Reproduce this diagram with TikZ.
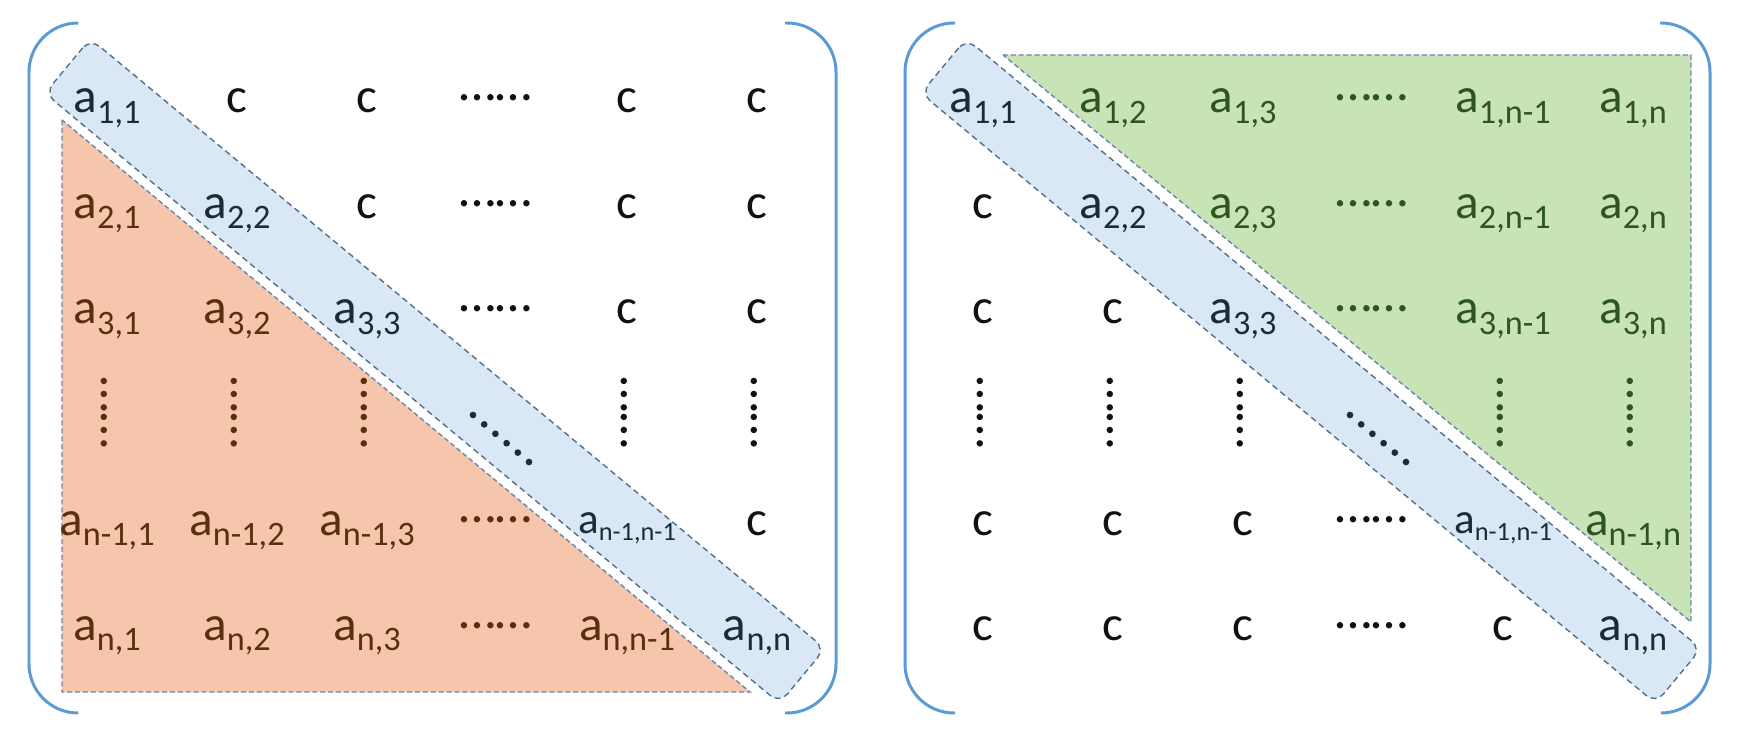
\documentclass[tikz,border=0pt]{standalone}
\usepackage{fontspec}
\setmainfont{Carlito}
\definecolor{bandfill}{HTML}{DAE8F5}
\definecolor{banddraw}{HTML}{52708E}
\definecolor{orangefill}{HTML}{F5C6AB}
\definecolor{greenfill}{HTML}{C8E3B5}
\definecolor{txtbrown}{HTML}{5C2E10}
\definecolor{txtgreen}{HTML}{2C5520}
\definecolor{txtdiag}{HTML}{1C2B3A}
\definecolor{txtblack}{HTML}{111111}
\definecolor{bracketblue}{HTML}{5B9BD5}
\definecolor{tridraw}{HTML}{6A86AE}
\newcommand\mainf{\fontsize{28}{30}\selectfont}
\newcommand\aent[1]{a\raisebox{-5.7pt}{\fontsize{19.5}{20}\selectfont #1}}
\newcommand\aentsm[1]{\fontsize{24.5}{26}\selectfont a\raisebox{-4pt}{\fontsize{15}{16}\selectfont #1}}
\tikzset{
  ent/.style={anchor=base, inner sep=0pt, font=\mainf},
  cc/.style={ent, text=txtblack},
  dg/.style={ent, text=txtdiag},
  br/.style={ent, text=txtbrown},
  gr/.style={ent, text=txtgreen},
  dotsn/.style={inner sep=0pt, anchor=center, font=\fontsize{30}{32}\selectfont},
  bracket/.style={draw=bracketblue, line width=1.7pt, rounded corners=0.98cm},
  band/.style={draw=banddraw, fill=bandfill, line width=0.8pt, dash pattern=on 3.4pt off 2.3pt,
    rounded corners=0.24cm},
  tri/.style={draw=tridraw, line width=0.8pt, dash pattern=on 2.8pt off 1.7pt},
  ddot/.style={fill=txtdiag}
}
\begin{document}
\begin{tikzpicture}[x=0.02cm, y=-0.02cm]
\useasboundingbox[fill=white] (0,0) rectangle (1742,733);
% ---------- left matrix ----------
\fill[orangefill] (62,120) -- (62,692) -- (750,692) -- cycle;
\draw[tri] (62,120) -- (62,692) -- (750,692) -- cycle;
\begin{scope}[shift={(435,371)}, rotate=-39.7]
  \draw[band] (-477.5,-35.5) rectangle (477.5,35.5);
\end{scope}
\draw[bracket] (78,23) -- (29,23) -- (29,713) -- (78,713);
\draw[bracket] (785,23) -- (836,23) -- (836,713) -- (785,713);
% row 1
\node[dg] (L11) at (107,113) {\aent{1,1}};
\node[cc] (L12) at (237,113) {c};
\node[cc] (L13) at (367,113) {c};
\node[dotsn, text=txtblack] (L14) at (496,98) {……};
\node[cc] (L15) at (627,113) {c};
\node[cc] (L16) at (757,113) {c};
% row 2
\node[br] (L21) at (107,218.5) {\aent{2,1}};
\node[dg] (L22) at (237,218.5) {\aent{2,2}};
\node[cc] (L23) at (367,218.5) {c};
\node[dotsn, text=txtblack] (L24) at (496,203.5) {……};
\node[cc] (L25) at (627,218.5) {c};
\node[cc] (L26) at (757,218.5) {c};
% row 3
\node[br] (L31) at (107,324) {\aent{3,1}};
\node[br] (L32) at (237,324) {\aent{3,2}};
\node[dg] (L33) at (367,324) {\aent{3,3}};
\node[dotsn, text=txtblack] (L34) at (496,309) {……};
\node[cc] (L35) at (627,324) {c};
\node[cc] (L36) at (757,324) {c};
% row 4
\node[dotsn, text=txtbrown, rotate=-90] (L41) at (104,413) {……};
\node[dotsn, text=txtbrown, rotate=-90] (L42) at (234,413) {……};
\node[dotsn, text=txtbrown, rotate=-90] (L43) at (364,413) {……};
\foreach \i in {0,...,5} \fill[ddot] (473+11.2*\i,415+9.4*\i) circle[radius=1.9pt];
\node[dotsn, text=txtblack, rotate=-90] (L45) at (624,413) {……};
\node[dotsn, text=txtblack, rotate=-90] (L46) at (754,413) {……};
% row 5
\node[br] (L51) at (107,535) {\aent{n-1,1}};
\node[br] (L52) at (237,535) {\aent{n-1,2}};
\node[br] (L53) at (367,535) {\aent{n-1,3}};
\node[dotsn, text=txtbrown] (L54) at (496,520) {……};
\node[dg] (L55) at (627,533) {\aentsm{n-1,n-1}};
\node[cc] (L56) at (757,535) {c};
% row 6
\node[br] (L61) at (107,640.5) {\aent{n,1}};
\node[br] (L62) at (237,640.5) {\aent{n,2}};
\node[br] (L63) at (367,640.5) {\aent{n,3}};
\node[dotsn, text=txtbrown] (L64) at (496,625.5) {……};
\node[br] (L65) at (627,640.5) {\aent{n,n-1}};
\node[dg] (L66) at (757,640.5) {\aent{n,n}};
% ---------- right matrix ----------
\fill[greenfill] (1003,55) -- (1691,55) -- (1691,622) -- cycle;
\draw[tri] (1003,55) -- (1691,55) -- (1691,622) -- cycle;
\begin{scope}[shift={(1311,371)}, rotate=-39.7]
  \draw[band] (-477.5,-35.5) rectangle (477.5,35.5);
\end{scope}
\draw[bracket] (955,23) -- (905,23) -- (905,713) -- (955,713);
\draw[bracket] (1660,23) -- (1710,23) -- (1710,713) -- (1662,713);
% row 1
\node[dg] (R11) at (983,113) {\aent{1,1}};
\node[gr] (R12) at (1113,113) {\aent{1,2}};
\node[gr] (R13) at (1243,113) {\aent{1,3}};
\node[dotsn, text=txtgreen] (R14) at (1372,98) {……};
\node[gr] (R15) at (1503,113) {\aent{1,n-1}};
\node[gr] (R16) at (1633,113) {\aent{1,n}};
% row 2
\node[cc] (R21) at (983,218.5) {c};
\node[dg] (R22) at (1113,218.5) {\aent{2,2}};
\node[gr] (R23) at (1243,218.5) {\aent{2,3}};
\node[dotsn, text=txtgreen] (R24) at (1372,203.5) {……};
\node[gr] (R25) at (1503,218.5) {\aent{2,n-1}};
\node[gr] (R26) at (1633,218.5) {\aent{2,n}};
% row 3
\node[cc] (R31) at (983,324) {c};
\node[cc] (R32) at (1113,324) {c};
\node[dg] (R33) at (1243,324) {\aent{3,3}};
\node[dotsn, text=txtgreen] (R34) at (1372,309) {……};
\node[gr] (R35) at (1503,324) {\aent{3,n-1}};
\node[gr] (R36) at (1633,324) {\aent{3,n}};
% row 4
\node[dotsn, text=txtblack, rotate=-90] (R41) at (980,413) {……};
\node[dotsn, text=txtblack, rotate=-90] (R42) at (1110,413) {……};
\node[dotsn, text=txtblack, rotate=-90] (R43) at (1240,413) {……};
\foreach \i in {0,...,5} \fill[ddot] (1350+11.2*\i,415+9.4*\i) circle[radius=1.9pt];
\node[dotsn, text=txtgreen, rotate=-90] (R45) at (1500,413) {……};
\node[dotsn, text=txtgreen, rotate=-90] (R46) at (1630,413) {……};
% row 5
\node[cc] (R51) at (983,535) {c};
\node[cc] (R52) at (1113,535) {c};
\node[cc] (R53) at (1243,535) {c};
\node[dotsn, text=txtblack] (R54) at (1372,520) {……};
\node[dg] (R55) at (1503,533) {\aentsm{n-1,n-1}};
\node[gr] (R56) at (1633,535) {\aent{n-1,n}};
% row 6
\node[cc] (R61) at (983,640.5) {c};
\node[cc] (R62) at (1113,640.5) {c};
\node[cc] (R63) at (1243,640.5) {c};
\node[dotsn, text=txtblack] (R64) at (1372,625.5) {……};
\node[cc] (R65) at (1503,640.5) {c};
\node[dg] (R66) at (1633,640.5) {\aent{n,n}};
\end{tikzpicture}
\end{document}
